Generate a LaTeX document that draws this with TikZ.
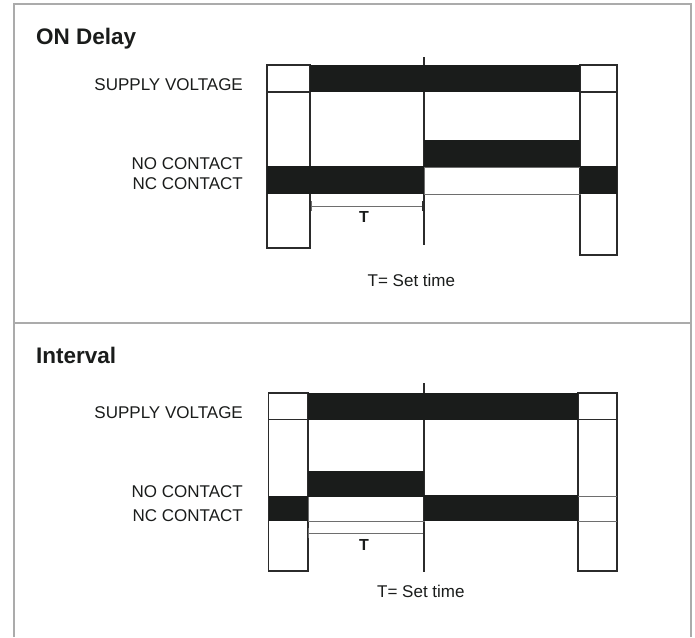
\documentclass[tikz,border=0pt]{standalone}
\usepackage{fontspec}
\setmainfont{Liberation Sans}
\begin{document}
\definecolor{ink}{HTML}{1A1C1B}
\definecolor{framegray}{HTML}{ABABAB}
\definecolor{edge}{HTML}{2B2B2B}
\definecolor{softedge}{HTML}{6E6E6E}
\tikzset{
  bar/.style={fill=ink},
  box/.style={draw=edge, line width=1.1pt},
  thinline/.style={draw=softedge, line width=0.9pt},
  frameline/.style={draw=framegray, line width=2pt},
  lbl/.style={anchor=base east, font=\fontsize{17}{20}\selectfont, inner sep=0pt, text=ink},
  ttl/.style={anchor=base west, font=\fontsize{22.5}{26}\selectfont\bfseries, inner sep=0pt, text=ink},
  tlbl/.style={anchor=base, font=\fontsize{16}{19}\selectfont\bfseries, inner sep=0pt, text=ink},
  note/.style={anchor=base west, font=\fontsize{17}{20}\selectfont, inner sep=0pt, text=ink}
}
\begin{tikzpicture}[x=1pt,y=-1pt]
\useasboundingbox (0,0) rectangle (695,637);
\fill[white] (0,0) rectangle (695,637);
% outer frame
\draw[frameline] (13.5,637) -- (13.5,4) -- (690.5,4) -- (690.5,637);
\draw[frameline] (13.5,323) -- (690.5,323);

% ===== ON Delay =====
\node[ttl] (t1) at (36,44.3) {ON Delay};
\draw[box] (424,57) -- (424,245);
\draw[box] (267,65) rectangle (310,248);
\draw[box] (267,92) -- (310,92);
\draw[box] (580,65) rectangle (617,255);
\draw[box] (580,92) -- (617,92);
\draw[thinline] (424,167) rectangle (580,194);
\fill[bar] (310,65) rectangle (580,92);
\fill[bar] (424,140) rectangle (580,167);
\fill[bar] (267,166) rectangle (424,194);
\fill[bar] (580,166) rectangle (617,194);
\coordinate (d1a) at (311,206);
\coordinate (d1b) at (423,206);
\draw[thinline] (d1a) -- (d1b);
\draw[thinline] ([yshift=-5pt]d1a) -- ([yshift=5pt]d1a);
\draw[box] ([yshift=-5pt]d1b) -- ([yshift=5pt]d1b);
\node[tlbl] (T1) at (364,222.3) {T};
\node[lbl] (sv1) at (243,90.7) {SUPPLY VOLTAGE};
\node[lbl] (no1) at (243,169.3) {NO CONTACT};
\node[lbl] (nc1) at (243,189) {NC CONTACT};
\node[note] (st1) at (367.5,286) {T= Set time};

% ===== Interval =====
\node[ttl] (t2) at (36,363) {Interval};
\draw[box] (424,383) -- (424,572);
\draw[box] (268.5,393) rectangle (308,571);
\draw[box] (268.5,419.5) -- (308,419.5);
\draw[box] (578,393) rectangle (617,571);
\draw[box] (578,419.5) -- (617,419.5);
\draw[thinline] (308,496.5) rectangle (424,521);
\draw[thinline] (578,496) -- (617,496);
\draw[thinline] (578,521.3) -- (617,521.3);
\fill[bar] (308,393) rectangle (578,419.5);
\fill[bar] (308,471) rectangle (424,496.5);
\fill[bar] (268.5,495.5) rectangle (308,521);
\fill[bar] (424,495) rectangle (578,521.3);
\coordinate (d2a) at (308.5,533.3);
\coordinate (d2b) at (423.5,533.3);
\draw[thinline] (d2a) -- (d2b);
\draw[thinline] ([yshift=-5pt]d2a) -- ([yshift=5pt]d2a);
\draw[box] ([yshift=-5pt]d2b) -- ([yshift=5pt]d2b);
\node[tlbl] (T2) at (364,550) {T};
\node[lbl] (sv2) at (243,418.2) {SUPPLY VOLTAGE};
\node[lbl] (no2) at (243,497.2) {NO CONTACT};
\node[lbl] (nc2) at (243,521.2) {NC CONTACT};
\node[note] (st2) at (377,597) {T= Set time};
\end{tikzpicture}
\end{document}
